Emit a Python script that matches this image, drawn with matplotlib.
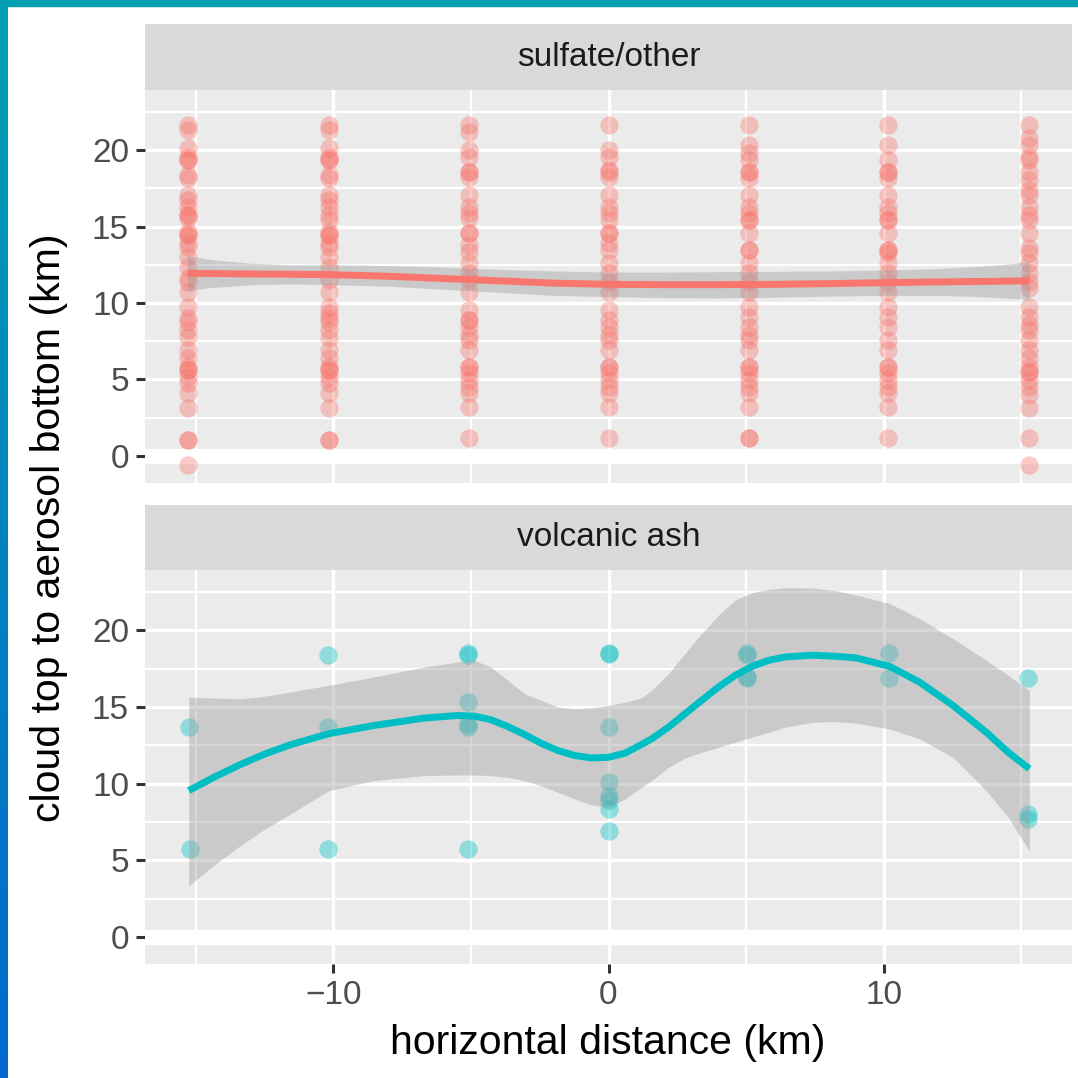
import numpy as np
import matplotlib
matplotlib.use('Agg')
import matplotlib.pyplot as plt
from matplotlib.patches import Rectangle
from matplotlib.colors import LinearSegmentedColormap

plt.rcParams['font.family'] = ['Liberation Sans', 'DejaVu Sans']

# sulfate/other: cloud top to aerosol bottom (km) at each horizontal distance
sulf_x = [-15.28, -10.17, -5.07, 0.02, 5.1, 10.17, 15.29]
sulf_m15 = [21.63, 21.31, 20.11, 19.56, 19.35, 19.35, 18.37, 18.15, 17.06, 16.73, 16.3,
            15.75, 15.75, 15.53, 14.66, 14.44, 14.44, 13.9, 13.68, 13.03, 12.37, 11.61,
            11.39, 10.74, 9.76, 9.0, 8.78, 8.24, 7.8, 6.93, 6.39, 5.84, 5.62, 5.62, 5.18,
            4.75, 4.1, 3.12, 1.05, 1.05, -0.59]
sulf_m10 = [21.63, 21.31, 20.11, 19.56, 19.35, 19.35, 18.37, 18.15, 17.06, 16.73, 16.3,
            15.75, 15.42, 14.66, 14.44, 14.44, 13.9, 13.68, 13.03, 12.37, 11.5, 10.74,
            9.76, 9.32, 9.0, 8.78, 8.24, 7.69, 6.93, 6.39, 5.84, 5.62, 5.62, 5.18, 4.75,
            4.1, 3.12, 1.05, 1.05]
sulf_m5 = [21.63, 21.2, 20.0, 19.56, 18.58, 18.58, 18.26, 17.06, 16.3, 15.86, 15.53,
           14.55, 14.55, 13.79, 13.35, 12.59, 11.94, 11.5, 10.74, 9.54, 8.89, 8.89, 8.45,
           7.91, 7.58, 6.93, 5.84, 5.84, 5.4, 4.97, 4.53, 4.1, 3.22, 1.16]
sulf_0 = [21.63, 20.0, 19.56, 18.69, 18.58, 18.26, 17.06, 16.3, 15.86, 15.42, 14.55,
          14.55, 13.9, 13.46, 12.59, 11.94, 11.39, 10.74, 9.54, 8.89, 8.45, 7.91, 7.58,
          6.93, 5.84, 5.84, 5.4, 4.97, 4.53, 4.1, 3.22, 1.16]
sulf_5 = [21.63, 20.33, 19.78, 19.35, 18.58, 18.58, 18.15, 17.06, 16.3, 15.86, 15.42,
          15.42, 14.55, 13.46, 13.46, 12.59, 11.94, 11.39, 10.74, 9.76, 9.11, 8.45, 7.91,
          7.58, 6.93, 5.84, 5.84, 5.4, 4.97, 4.53, 4.1, 3.22, 1.16, 1.16]
sulf_10 = [21.63, 20.33, 19.35, 18.58, 18.58, 18.15, 17.06, 16.3, 15.86, 15.42, 15.42,
           14.55, 13.46, 13.46, 13.25, 12.59, 11.94, 11.39, 10.74, 9.76, 9.11, 8.45,
           7.58, 6.93, 5.84, 5.84, 5.4, 4.97, 4.53, 4.1, 3.22, 1.16]
sulf_15 = [21.63, 20.76, 20.33, 19.56, 19.35, 18.58, 18.04, 17.39, 17.06, 16.3, 15.75,
           15.42, 14.55, 13.57, 13.25, 12.59, 11.94, 11.39, 10.96, 9.76, 9.11, 8.56, 8.24,
           7.58, 6.93, 6.39, 5.84, 5.51, 5.51, 4.97, 4.53, 3.99, 3.12, 1.16, -0.59]
sulf_cols = [sulf_m15, sulf_m10, sulf_m5, sulf_0, sulf_5, sulf_10, sulf_15]

# loess fit for sulfate/other
sulf_fit_x = [-15.3, -14.5, -13, -11.5, -10, -8, -6, -4, -2, 0, 2, 4, 6, 8, 10, 12, 13.5, 14.5, 15.3]
sulf_fit_y = [11.95, 11.93, 11.9, 11.88, 11.85, 11.75, 11.6, 11.45, 11.3, 11.22, 11.2,
              11.2, 11.22, 11.27, 11.33, 11.38, 11.41, 11.43, 11.45]
sulf_fit_lo = [10.8, 11.0, 11.2, 11.25, 11.2, 11.1, 10.9, 10.7, 10.5, 10.42, 10.35,
               10.33, 10.38, 10.45, 10.5, 10.5, 10.42, 10.32, 10.22]
sulf_fit_hi = [13.1, 12.85, 12.6, 12.5, 12.5, 12.45, 12.35, 12.2, 12.1, 12.02, 12.02,
               12.05, 12.07, 12.1, 12.15, 12.25, 12.4, 12.55, 12.7]

# volcanic ash
ash_x = [-15.25, -15.2, -10.2, -10.2, -10.2, -5.1, -5.1, -5.1, -5.1, -5.1, -5.1,
         0.0, 0.0, 0.0, 0.0, 0.0, 0.0, 0.0, 0.0, 5.05, 5.05, 5.05, 5.05, 10.2, 10.2,
         15.25, 15.25, 15.25]
ash_y = [13.68, 5.73, 18.37, 13.68, 5.73, 18.5, 18.37, 15.3, 13.9, 13.68, 5.73,
         18.5, 18.42, 13.68, 10.13, 9.2, 8.9, 8.35, 6.88, 18.5, 18.37, 16.95, 16.9,
         18.5, 16.9, 16.9, 8.0, 7.7]

# loess fit for volcanic ash
ash_fit_x = [-15.26, -14.3, -13.39, -12.5, -11.57, -10.17, -8.53, -6.7, -5.49, -4.88,
             -4.27, -3.66, -3.05, -2.45, -1.84, -1.23, -0.62, -0.01, 0.6, 1.2, 1.57,
             2.18, 2.78, 3.39, 4.0, 4.61, 5.22, 5.83, 6.43, 7.41, 8.26, 8.99, 10.21,
             11.3, 12.52, 13.73, 14.53, 15.3]
ash_fit_y = [9.54, 10.45, 11.24, 11.92, 12.53, 13.25, 13.79, 14.27, 14.44, 14.4,
             14.16, 13.72, 13.2, 12.63, 12.15, 11.83, 11.67, 11.71, 11.98, 12.55, 12.92,
             13.68, 14.55, 15.43, 16.3, 17.06, 17.65, 18.04, 18.26, 18.37, 18.3, 18.2,
             17.65, 16.62, 15.1, 13.35, 12.04, 10.96]
ash_fit_lo = [3.32, 4.74, 5.94, 7.03, 8.01, 9.54, 10.19, 10.52, 10.56, 10.56,
              10.52, 10.41, 10.19, 9.86, 9.43, 8.99, 8.6, 8.47, 8.99, 9.75, 10.19,
              11.06, 11.67, 12.04, 12.37, 12.7, 13.02, 13.35, 13.68, 14.0, 14.05, 13.94,
              13.57, 12.92, 11.71, 9.54, 7.79, 5.61]
ash_fit_hi = [15.64, 15.58, 15.53, 15.7, 15.97, 16.41, 16.95, 17.6, 17.93, 18.04,
              17.6, 16.73, 15.86, 15.43, 14.99, 14.88, 14.95, 15.1, 15.3, 15.6, 16.08,
              17.17, 18.48, 19.79, 20.99, 21.97, 22.45, 22.67, 22.77, 22.76, 22.58, 22.3,
              21.75, 20.77, 19.46, 18.04, 17.06, 16.08]

red = '#F8766D'
cyan = '#00BFC4'

W = 1078.0
fig = plt.figure(figsize=(10.78, 10.78), dpi=100)
fig.patch.set_facecolor('white')


def fx(px):
    return px / W


def fy(px):
    return 1 - px / W


def style_panel(ax, show_x):
    ax.set_facecolor('#EBEBEB')
    for s in ax.spines.values():
        s.set_visible(False)
    ax.set_xlim(-16.85, 16.85)
    ax.set_ylim(-1.77, 23.93)
    ax.set_xticks([-10, 0, 10])
    ax.set_xticks([-15, -5, 5, 15], minor=True)
    ax.set_yticks([0, 5, 10, 15, 20])
    ax.set_yticks([2.5, 7.5, 12.5, 17.5, 22.5], minor=True)
    ax.set_axisbelow(True)
    ax.grid(which='major', color='white', lw=2.4)
    ax.grid(which='minor', color='white', lw=1.6)
    ax.axhline(0, color='white', lw=11, zorder=0.6)
    ax.tick_params(which='minor', length=0)
    ax.tick_params(which='major', length=6.5, width=2.2, color='#333333',
                   labelsize=24, labelcolor='#4D4D4D', pad=5)
    if not show_x:
        ax.tick_params(axis='x', which='both', length=0, labelbottom=False)


def strip(top_px, bot_px, label):
    sax = fig.add_axes([fx(145), fy(bot_px), fx(1072 - 145), (bot_px - top_px) / W])
    sax.set_facecolor('#D9D9D9')
    sax.set_xticks([])
    sax.set_yticks([])
    for s in sax.spines.values():
        s.set_visible(False)
    sax.text(0.5, 0.5, label, ha='center', va='center', fontsize=24,
             color='#1A1A1A', transform=sax.transAxes)


# top facet
ax1 = fig.add_axes([fx(145), fy(483), fx(1072 - 145), (483 - 90) / W])
style_panel(ax1, False)
for xv, col in zip(sulf_x, sulf_cols):
    ax1.scatter([xv] * len(col), col, s=175, color=red, alpha=0.38, lw=0, zorder=2)
ax1.fill_between(sulf_fit_x, sulf_fit_lo, sulf_fit_hi, color='#999999', alpha=0.4, lw=0, zorder=3)
ax1.plot(sulf_fit_x, sulf_fit_y, color=red, lw=5, zorder=4, solid_capstyle='butt')
strip(24, 90, 'sulfate/other')

# bottom facet
ax2 = fig.add_axes([fx(145), fy(964), fx(1072 - 145), (964 - 570) / W])
style_panel(ax2, True)
ax2.scatter(ash_x, ash_y, s=175, color=cyan, alpha=0.38, lw=0, zorder=2)
ax2.fill_between(ash_fit_x, ash_fit_lo, ash_fit_hi, color='#999999', alpha=0.4, lw=0, zorder=3)
ax2.plot(ash_fit_x, ash_fit_y, color=cyan, lw=5, zorder=4, solid_capstyle='butt',
         solid_joinstyle='round')
strip(505, 570, 'volcanic ash')

fig.text(fx(608), fy(1043), 'horizontal distance (km)', ha='center', va='center',
         fontsize=29.5, color='black')
fig.text(fx(49), fy(528), 'cloud top to aerosol bottom (km)', ha='center', va='center',
         rotation=90, fontsize=29.5, color='black')

# frame edges
fig.patches.append(Rectangle((0, fy(6)), 1, 6 / W, transform=fig.transFigure,
                             color='#00A0B0', zorder=10))
gax = fig.add_axes([0, 0, 7 / W, 1])
grad = np.linspace(0, 1, 256).reshape(-1, 1)
cmap = LinearSegmentedColormap.from_list('edge', ['#00A0B0', '#0068CF'])
gax.imshow(grad, aspect='auto', cmap=cmap, extent=[0, 1, 0, 1], origin='upper')
gax.set_axis_off()

fig.savefig('out.png', dpi=100, facecolor='white')
